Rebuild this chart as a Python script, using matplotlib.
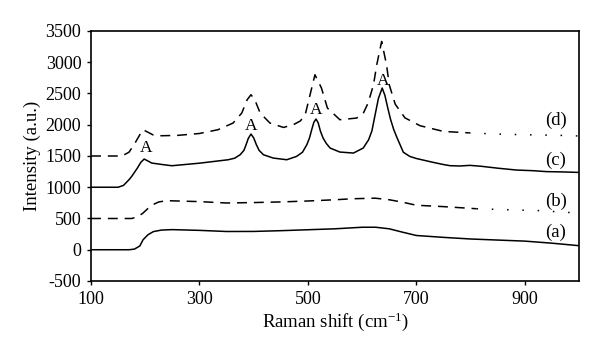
import numpy as np
import matplotlib
matplotlib.use('Agg')
import matplotlib.pyplot as plt

plt.rcParams['font.family'] = 'Liberation Serif'
plt.rcParams['mathtext.fontset'] = 'custom'
plt.rcParams['mathtext.rm'] = 'Liberation Serif'
plt.rcParams['mathtext.it'] = 'Liberation Serif:italic'
plt.rcParams['axes.unicode_minus'] = False

# (a) solid, bottom
a_x = [100, 170, 180, 190, 196, 205, 215, 230, 250, 300, 350, 400, 450, 500, 550, 600,
       625, 650, 675, 700, 750, 800, 850, 900, 950, 1000]
a_y = [0, 0, 10, 60, 160, 240, 290, 315, 322, 310, 292, 293, 305, 320, 335, 360,
       360, 335, 280, 228, 198, 172, 155, 138, 105, 65]

# (b) dashed
b_x = [100, 175, 185, 195, 205, 215, 225, 240, 300, 350, 400, 450, 500, 550, 583, 624,
       650, 675, 700, 750, 811, 850, 900, 934, 970, 1000]
b_y = [500, 500, 525, 580, 660, 725, 765, 785, 770, 748, 755, 765, 780, 800, 816, 825,
       800, 760, 712, 690, 656, 645, 632, 624, 600, 590]

# (c) solid
c_x = [100, 150, 160, 170, 175, 185, 192, 198, 205, 212, 230, 249, 300, 353, 365, 375,
       382, 386, 390, 395, 400, 405, 410, 418, 436, 461, 479, 490, 498, 503, 507, 511,
       515, 519, 523, 528, 534, 541, 559, 584, 602, 612, 618, 624, 630, 637, 642, 647,
       652, 658, 664, 670, 676, 688, 700, 715, 730, 749, 762, 780, 799, 820, 850, 885,
       915, 940, 970, 1000]
c_y = [1000, 1000, 1030, 1120, 1173, 1300, 1400, 1451, 1420, 1387, 1365, 1344, 1385, 1440, 1465, 1520,
       1590, 1680, 1780, 1851, 1790, 1680, 1590, 1520, 1467, 1440, 1493, 1560, 1680, 1790, 1920, 2040,
       2091, 2030, 1900, 1787, 1700, 1627, 1563, 1547, 1627, 1760, 1900, 2160, 2420, 2587, 2470, 2280,
       2100, 1930, 1800, 1680, 1560, 1493, 1460, 1430, 1400, 1365, 1345, 1340, 1350, 1335, 1305, 1275,
       1265, 1250, 1245, 1237]

# (d) dashed
d_x = [100, 157, 170, 180, 190, 196, 205, 215, 230, 260, 300, 334, 362, 378, 388, 395,
       402, 412, 430, 455, 473, 486, 495, 504, 513, 525, 536, 559, 590, 602, 611, 621,
       627, 636, 645, 650, 661, 679, 707, 750, 797, 848, 900, 971, 1000]
d_y = [1500, 1500, 1560, 1690, 1840, 1920, 1880, 1835, 1824, 1830, 1860, 1920, 2027, 2187, 2400, 2480,
       2400, 2187, 2027, 1957, 2000, 2060, 2160, 2480, 2800, 2587, 2267, 2080, 2107, 2180, 2347, 2640,
       2960, 3333, 2960, 2640, 2330, 2110, 1984, 1893, 1870, 1851, 1840, 1829, 1820]

# peak markers and curve labels
peak_x = [201, 395, 516, 639]
peak_y = [1630, 1984, 2229, 2704]
curve_labels = ['(d)', '(c)', '(b)', '(a)']
label_x = [957, 957, 957, 957]
label_y = [2064, 1424, 773, 283]

fig = plt.figure(figsize=(6.0, 3.57), dpi=100)
ax = fig.add_axes([0.1517, 0.2129, 0.8133, 0.7003])

lw = 1.1
ax.plot(a_x, a_y, color='black', lw=lw)
ax.plot(c_x, c_y, color='black', lw=lw)


def dashed_then_dotted(xs, ys, split):
    xs = np.array(xs)
    ys = np.array(ys)
    m1 = xs <= split
    k = np.argmax(xs > split)
    ax.plot(xs[m1], ys[m1], color='black', lw=lw, dashes=(6.5, 4.5))
    ax.plot(xs[k - 1:], ys[k - 1:], color='black', lw=lw, dashes=(1.0, 9.0))


dashed_then_dotted(b_x, b_y, 820)
dashed_then_dotted(d_x, d_y, 800)

for px, py in zip(peak_x, peak_y):
    ax.text(px, py, 'A', ha='center', va='center', fontsize=12.5)
for lx, ly, t in zip(label_x, label_y, curve_labels):
    ax.text(lx, ly, t, ha='center', va='center', fontsize=13.5)

ax.set_xlim(100, 1000)
ax.set_ylim(-500, 3500)
ax.set_xticks([100, 300, 500, 700, 900])
ax.set_yticks(np.arange(-500, 3501, 500))
ax.tick_params(direction='out', length=3, width=1, labelsize=13, pad=4)
for s in ax.spines.values():
    s.set_linewidth(1.2)

ax.set_xlabel('Raman shift (cm$^{-1}$)', fontsize=13.5, labelpad=2)
ax.set_ylabel('Intensity (a.u.)', fontsize=13.5, labelpad=3)

fig.savefig('out.png', dpi=100)
